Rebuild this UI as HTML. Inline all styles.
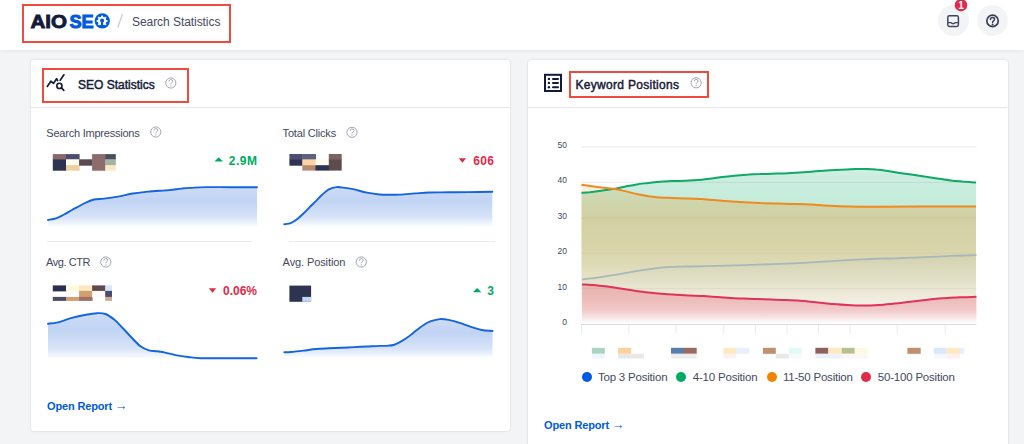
<!DOCTYPE html>
<html><head><meta charset="utf-8"><title>Search Statistics</title>
<style>
*{box-sizing:border-box;margin:0;padding:0}
html,body{width:1024px;height:444px;overflow:hidden}
body{background:#f3f4f5;font-family:"Liberation Sans",Arial,sans-serif;position:relative;color:#141b38}
.abs{position:absolute}
#hdr{left:0;top:0;width:1024px;height:50px;background:#fff;box-shadow:0 1px 4px rgba(0,0,0,.06)}
.redbox{position:absolute;border:2px solid #ef4b3f}
.crumb{left:132px;top:14px;font-size:12px;letter-spacing:-0.06px;color:#434960;line-height:16px;white-space:nowrap}
.hbtn{width:31px;height:31px;border-radius:50%;background:#f3f4f5}
.card{background:#fff;border-radius:3px;box-shadow:0 0 0 1px rgba(20,27,56,.03),0 0 3px rgba(0,0,0,.06)}
.ctitle{font-size:12px;font-weight:bold;color:#141b38;line-height:16px;white-space:nowrap}
.hr{height:1px;background:#e8e8eb}
.lbl{font-size:11px;color:#434960;line-height:14px;white-space:nowrap}
.val{font-size:12px;font-weight:bold;line-height:14px;white-space:nowrap}
.up{color:#00aa63}.dn{color:#df2a4a}
.link{font-size:11px;letter-spacing:-0.15px;font-weight:bold;color:#005ae0;line-height:14px;white-space:nowrap}
.leg{font-size:11.5px;letter-spacing:-0.2px;color:#434960;line-height:14px;white-space:nowrap}
.dot{width:10px;height:10px;border-radius:50%}
.ax{font-size:8.5px;color:#434960;line-height:10px;text-align:right;width:20px}
</style></head><body>

<div id="hdr" class="abs"></div>

<!-- cards -->
<div class="abs card" style="left:31px;top:60px;width:479px;height:371px"></div>
<div class="abs hr" style="left:31px;top:107px;width:479px"></div>
<div class="abs card" style="left:528px;top:60px;width:479.5px;height:400px"></div>
<div class="abs hr" style="left:528px;top:107px;width:479px"></div>
<div class="abs hr" style="left:47px;top:241px;width:205px;background:#ececef"></div>
<div class="abs hr" style="left:289px;top:241px;width:206px;background:#ececef"></div>

<svg class="abs" style="left:0;top:0" width="1024" height="444" viewBox="0 0 1024 444"><defs></defs><linearGradient id="s1" gradientUnits="userSpaceOnUse" x1="0" y1="187.1" x2="0" y2="226.5"><stop offset="0" stop-color="#cddbf6"/><stop offset="0.35" stop-color="#c1d4f4"/><stop offset="0.75" stop-color="#d6e2f8"/><stop offset="1" stop-color="#fafcff"/></linearGradient><path d="M48.0 220.0 C49.3 219.7 53.3 219.3 56.0 218.4 C58.7 217.5 61.3 215.9 64.0 214.5 C66.7 213.1 68.5 211.9 72.0 210.0 C75.5 208.1 81.3 204.8 85.0 203.0 C88.7 201.2 90.8 200.2 94.0 199.5 C97.2 198.8 100.0 199.1 104.0 198.6 C108.0 198.1 113.2 197.4 118.0 196.6 C122.8 195.8 128.0 194.3 133.0 193.5 C138.0 192.7 142.0 192.2 148.0 191.6 C154.0 191.0 163.4 190.6 169.0 190.1 C174.6 189.6 177.3 189.0 181.5 188.6 C185.7 188.2 189.8 187.8 194.0 187.6 C198.2 187.3 201.0 187.2 207.0 187.1 C213.0 187.0 221.7 187.2 230.0 187.2 C238.3 187.2 252.5 187.3 257.0 187.3 L257.0 226.5 L48.0 226.5 Z" fill="url(#s1)"/><path d="M48.0 220.0 C49.3 219.7 53.3 219.3 56.0 218.4 C58.7 217.5 61.3 215.9 64.0 214.5 C66.7 213.1 68.5 211.9 72.0 210.0 C75.5 208.1 81.3 204.8 85.0 203.0 C88.7 201.2 90.8 200.2 94.0 199.5 C97.2 198.8 100.0 199.1 104.0 198.6 C108.0 198.1 113.2 197.4 118.0 196.6 C122.8 195.8 128.0 194.3 133.0 193.5 C138.0 192.7 142.0 192.2 148.0 191.6 C154.0 191.0 163.4 190.6 169.0 190.1 C174.6 189.6 177.3 189.0 181.5 188.6 C185.7 188.2 189.8 187.8 194.0 187.6 C198.2 187.3 201.0 187.2 207.0 187.1 C213.0 187.0 221.7 187.2 230.0 187.2 C238.3 187.2 252.5 187.3 257.0 187.3" fill="none" stroke="#1464e2" stroke-width="1.9" stroke-linecap="round"/><linearGradient id="s2" gradientUnits="userSpaceOnUse" x1="0" y1="187.1" x2="0" y2="226.5"><stop offset="0" stop-color="#cddbf6"/><stop offset="0.35" stop-color="#c1d4f4"/><stop offset="0.75" stop-color="#d6e2f8"/><stop offset="1" stop-color="#fafcff"/></linearGradient><path d="M284.3 224.3 C285.4 224.1 288.6 223.9 290.7 223.1 C292.8 222.3 294.9 220.9 297.0 219.3 C299.1 217.7 301.3 215.5 303.4 213.5 C305.5 211.5 307.6 209.3 309.7 207.2 C311.8 205.1 314.0 203.0 316.1 200.9 C318.2 198.8 320.3 196.4 322.4 194.5 C324.5 192.6 326.5 190.6 328.8 189.4 C331.1 188.2 333.6 187.3 336.4 187.1 C339.1 186.8 342.3 187.5 345.3 187.9 C348.3 188.3 350.6 188.6 354.2 189.4 C357.8 190.2 362.7 191.8 366.9 192.6 C371.1 193.4 375.8 194.1 379.6 194.5 C383.4 194.9 386.3 194.8 389.7 194.8 C393.1 194.8 395.9 194.8 400.0 194.6 C404.1 194.4 409.7 193.8 414.6 193.4 C419.5 193.1 423.6 192.7 429.3 192.5 C435.0 192.3 442.3 192.4 448.8 192.3 C455.3 192.2 461.1 192.2 468.4 192.1 C475.6 192.0 488.3 191.9 492.3 191.8 L492.3 226.5 L284.3 226.5 Z" fill="url(#s2)"/><path d="M284.3 224.3 C285.4 224.1 288.6 223.9 290.7 223.1 C292.8 222.3 294.9 220.9 297.0 219.3 C299.1 217.7 301.3 215.5 303.4 213.5 C305.5 211.5 307.6 209.3 309.7 207.2 C311.8 205.1 314.0 203.0 316.1 200.9 C318.2 198.8 320.3 196.4 322.4 194.5 C324.5 192.6 326.5 190.6 328.8 189.4 C331.1 188.2 333.6 187.3 336.4 187.1 C339.1 186.8 342.3 187.5 345.3 187.9 C348.3 188.3 350.6 188.6 354.2 189.4 C357.8 190.2 362.7 191.8 366.9 192.6 C371.1 193.4 375.8 194.1 379.6 194.5 C383.4 194.9 386.3 194.8 389.7 194.8 C393.1 194.8 395.9 194.8 400.0 194.6 C404.1 194.4 409.7 193.8 414.6 193.4 C419.5 193.1 423.6 192.7 429.3 192.5 C435.0 192.3 442.3 192.4 448.8 192.3 C455.3 192.2 461.1 192.2 468.4 192.1 C475.6 192.0 488.3 191.9 492.3 191.8" fill="none" stroke="#1464e2" stroke-width="1.9" stroke-linecap="round"/><linearGradient id="s3" gradientUnits="userSpaceOnUse" x1="0" y1="313.2" x2="0" y2="358.5"><stop offset="0" stop-color="#cddbf6"/><stop offset="0.35" stop-color="#c1d4f4"/><stop offset="0.75" stop-color="#d6e2f8"/><stop offset="1" stop-color="#fafcff"/></linearGradient><path d="M48.0 323.7 C49.7 323.5 54.0 323.3 58.0 322.3 C62.0 321.3 67.2 319.2 71.9 317.9 C76.6 316.6 81.7 315.5 85.9 314.7 C90.1 313.9 93.7 313.3 97.0 313.2 C100.3 313.1 102.6 312.9 105.5 314.0 C108.4 315.1 111.5 317.4 114.5 319.8 C117.5 322.2 120.3 325.5 123.2 328.5 C126.1 331.5 129.1 335.0 132.0 338.0 C134.9 341.0 137.7 344.2 140.5 346.3 C143.3 348.4 146.2 349.5 149.0 350.3 C151.8 351.1 154.3 350.9 157.0 351.3 C159.7 351.7 162.1 352.0 165.2 352.6 C168.3 353.2 171.6 354.4 175.4 355.1 C179.2 355.8 183.9 356.5 188.1 357.0 C192.3 357.5 193.8 358.0 200.8 358.2 C207.8 358.4 220.7 358.2 230.0 358.2 C239.3 358.2 252.2 358.2 256.6 358.2 L256.6 358.5 L48.0 358.5 Z" fill="url(#s3)"/><path d="M48.0 323.7 C49.7 323.5 54.0 323.3 58.0 322.3 C62.0 321.3 67.2 319.2 71.9 317.9 C76.6 316.6 81.7 315.5 85.9 314.7 C90.1 313.9 93.7 313.3 97.0 313.2 C100.3 313.1 102.6 312.9 105.5 314.0 C108.4 315.1 111.5 317.4 114.5 319.8 C117.5 322.2 120.3 325.5 123.2 328.5 C126.1 331.5 129.1 335.0 132.0 338.0 C134.9 341.0 137.7 344.2 140.5 346.3 C143.3 348.4 146.2 349.5 149.0 350.3 C151.8 351.1 154.3 350.9 157.0 351.3 C159.7 351.7 162.1 352.0 165.2 352.6 C168.3 353.2 171.6 354.4 175.4 355.1 C179.2 355.8 183.9 356.5 188.1 357.0 C192.3 357.5 193.8 358.0 200.8 358.2 C207.8 358.4 220.7 358.2 230.0 358.2 C239.3 358.2 252.2 358.2 256.6 358.2" fill="none" stroke="#1464e2" stroke-width="1.9" stroke-linecap="round"/><linearGradient id="s4" gradientUnits="userSpaceOnUse" x1="0" y1="319.1" x2="0" y2="357.5"><stop offset="0" stop-color="#cddbf6"/><stop offset="0.35" stop-color="#c1d4f4"/><stop offset="0.75" stop-color="#d6e2f8"/><stop offset="1" stop-color="#fafcff"/></linearGradient><path d="M284.3 352.2 C285.4 352.2 287.5 352.3 290.7 352.0 C293.9 351.7 299.2 351.1 303.4 350.6 C307.6 350.1 311.9 349.4 316.1 349.0 C320.3 348.6 324.6 348.5 328.8 348.3 C333.0 348.1 337.3 348.0 341.5 347.8 C345.7 347.6 350.0 347.3 354.2 347.1 C358.4 346.9 362.7 346.7 366.9 346.5 C371.1 346.3 376.0 346.0 379.6 345.9 C383.2 345.8 386.1 345.8 388.4 345.6 C390.7 345.5 391.6 345.6 393.5 345.0 C395.4 344.4 397.5 343.4 399.9 342.1 C402.3 340.8 405.8 338.5 408.0 337.0 C410.2 335.5 410.6 334.9 413.2 332.9 C415.8 330.9 420.3 327.1 423.3 325.2 C426.3 323.2 428.2 322.2 431.0 321.2 C433.8 320.2 436.9 319.3 439.8 319.1 C442.8 318.9 445.5 319.3 448.7 319.9 C451.9 320.5 455.1 321.5 458.9 322.7 C462.7 323.9 467.8 325.9 471.6 327.1 C475.4 328.3 478.2 329.4 481.7 330.0 C485.2 330.6 490.7 330.8 492.5 331.0 L492.5 357.5 L284.3 357.5 Z" fill="url(#s4)"/><path d="M284.3 352.2 C285.4 352.2 287.5 352.3 290.7 352.0 C293.9 351.7 299.2 351.1 303.4 350.6 C307.6 350.1 311.9 349.4 316.1 349.0 C320.3 348.6 324.6 348.5 328.8 348.3 C333.0 348.1 337.3 348.0 341.5 347.8 C345.7 347.6 350.0 347.3 354.2 347.1 C358.4 346.9 362.7 346.7 366.9 346.5 C371.1 346.3 376.0 346.0 379.6 345.9 C383.2 345.8 386.1 345.8 388.4 345.6 C390.7 345.5 391.6 345.6 393.5 345.0 C395.4 344.4 397.5 343.4 399.9 342.1 C402.3 340.8 405.8 338.5 408.0 337.0 C410.2 335.5 410.6 334.9 413.2 332.9 C415.8 330.9 420.3 327.1 423.3 325.2 C426.3 323.2 428.2 322.2 431.0 321.2 C433.8 320.2 436.9 319.3 439.8 319.1 C442.8 318.9 445.5 319.3 448.7 319.9 C451.9 320.5 455.1 321.5 458.9 322.7 C462.7 323.9 467.8 325.9 471.6 327.1 C475.4 328.3 478.2 329.4 481.7 330.0 C485.2 330.6 490.7 330.8 492.5 331.0" fill="none" stroke="#1464e2" stroke-width="1.9" stroke-linecap="round"/><rect x="52.8" y="154.1" width="13.7" height="5.7" fill="#8a6868"/><rect x="52.8" y="159.3" width="13.7" height="11.4" fill="#2e3352"/><rect x="66.0" y="154.1" width="13.6" height="5.7" fill="#4c4c72"/><rect x="66.0" y="159.3" width="13.6" height="6.4" fill="#fefcea"/><rect x="66.0" y="165.2" width="13.6" height="5.5" fill="#ecd2a0"/><rect x="79.1" y="159.3" width="13.5" height="6.4" fill="#5a4a50"/><rect x="92.1" y="154.1" width="13.6" height="16.6" fill="#8c6c6c"/><rect x="105.2" y="154.1" width="10.6" height="5.7" fill="#4a4e5e"/><rect x="105.2" y="159.3" width="10.6" height="6.4" fill="#a4b4a4"/><rect x="105.2" y="165.2" width="10.6" height="5.5" fill="#fce8c0"/><rect x="289.4" y="154.0" width="13.4" height="5.9" fill="#4e4e72"/><rect x="289.4" y="159.4" width="13.4" height="6.3" fill="#2e3355"/><rect x="302.3" y="154.0" width="13.7" height="5.9" fill="#5e6080"/><rect x="302.3" y="159.4" width="13.7" height="6.3" fill="#fdd4a4"/><rect x="302.3" y="165.2" width="13.7" height="5.4" fill="#b88a72"/><rect x="315.5" y="159.4" width="13.8" height="6.3" fill="#fdfcee"/><rect x="315.5" y="165.2" width="13.8" height="5.4" fill="#2e3355"/><rect x="328.8" y="154.0" width="12.9" height="5.9" fill="#7a6460"/><rect x="328.8" y="159.4" width="12.9" height="11.2" fill="#5e4c4c"/><rect x="52.8" y="285.4" width="13.7" height="6.0" fill="#2c3050"/><rect x="52.8" y="296.9" width="13.7" height="4.0" fill="#4a4e60"/><rect x="66.0" y="285.4" width="13.6" height="6.0" fill="#fefcdc"/><rect x="66.0" y="296.9" width="13.6" height="4.0" fill="#d0a070"/><rect x="79.1" y="285.4" width="13.5" height="6.0" fill="#fde8c0"/><rect x="79.1" y="290.9" width="13.5" height="6.5" fill="#d0a070"/><rect x="79.1" y="296.9" width="13.5" height="4.0" fill="#a07068"/><rect x="92.1" y="285.4" width="13.6" height="6.0" fill="#5e4a4c"/><rect x="92.1" y="290.9" width="13.6" height="6.5" fill="#fefafa"/><rect x="105.2" y="285.4" width="6.8" height="6.0" fill="#d4e4fa"/><rect x="105.2" y="290.9" width="6.8" height="6.5" fill="#4a4a72"/><rect x="105.2" y="296.9" width="6.8" height="4.0" fill="#ccaa90"/><rect x="289.4" y="285.6" width="21.7" height="16.2" fill="#2e3352"/><rect x="302.3" y="296.9" width="8.8" height="4.9" fill="#c4d8f6"/><linearGradient id="gG" gradientUnits="userSpaceOnUse" x1="0" y1="0" x2="0" y2="444"><stop offset="0.3806" stop-color="#00aa63" stop-opacity="0.190"/><stop offset="0.4505" stop-color="#00aa63" stop-opacity="0.230"/><stop offset="0.4955" stop-color="#00aa63" stop-opacity="0.220"/><stop offset="0.5631" stop-color="#00aa63" stop-opacity="0.180"/><stop offset="0.5968" stop-color="#00aa63" stop-opacity="0.150"/><stop offset="0.6644" stop-color="#00aa63" stop-opacity="0.050"/><stop offset="0.7297" stop-color="#00aa63" stop-opacity="0.000"/></linearGradient><linearGradient id="gO" gradientUnits="userSpaceOnUse" x1="0" y1="0" x2="0" y2="444"><stop offset="0.4167" stop-color="#f18200" stop-opacity="0.120"/><stop offset="0.4617" stop-color="#f18200" stop-opacity="0.230"/><stop offset="0.4955" stop-color="#f18200" stop-opacity="0.260"/><stop offset="0.5631" stop-color="#f18200" stop-opacity="0.250"/><stop offset="0.5968" stop-color="#f18200" stop-opacity="0.210"/><stop offset="0.6644" stop-color="#f18200" stop-opacity="0.120"/><stop offset="0.7297" stop-color="#f18200" stop-opacity="0.000"/></linearGradient><linearGradient id="gB" gradientUnits="userSpaceOnUse" x1="0" y1="0" x2="0" y2="444"><stop offset="0.5743" stop-color="#005ae0" stop-opacity="0.030"/><stop offset="0.6757" stop-color="#005ae0" stop-opacity="0.015"/><stop offset="0.7297" stop-color="#005ae0" stop-opacity="0.000"/></linearGradient><linearGradient id="gR" gradientUnits="userSpaceOnUse" x1="0" y1="0" x2="0" y2="444"><stop offset="0.6374" stop-color="#df2a4a" stop-opacity="0.250"/><stop offset="0.6757" stop-color="#df2a4a" stop-opacity="0.250"/><stop offset="0.6982" stop-color="#df2a4a" stop-opacity="0.210"/><stop offset="0.7162" stop-color="#df2a4a" stop-opacity="0.100"/><stop offset="0.7275" stop-color="#df2a4a" stop-opacity="0.000"/></linearGradient><rect x="581" y="146.5" width="395.5" height="1" fill="#ebebee"/><rect x="581" y="181.9" width="395.5" height="1" fill="#ebebee"/><rect x="581" y="217.3" width="395.5" height="1" fill="#ebebee"/><rect x="581" y="252.7" width="395.5" height="1" fill="#f2f2f2"/><rect x="581" y="288.1" width="395.5" height="1" fill="#f2f2f2"/><rect x="581" y="324.0" width="395.5" height="1" fill="#d9dbe3"/><rect x="581.1" y="325" width="1" height="9" fill="#ebebef"/><rect x="628.3" y="325" width="1" height="9" fill="#ebebef"/><rect x="675.6" y="325" width="1" height="9" fill="#ebebef"/><rect x="723.3" y="325" width="1" height="9" fill="#ebebef"/><rect x="754.9" y="325" width="1" height="9" fill="#ebebef"/><rect x="786.6" y="325" width="1" height="9" fill="#ebebef"/><rect x="817.9" y="325" width="1" height="9" fill="#ebebef"/><rect x="849.5" y="325" width="1" height="9" fill="#ebebef"/><rect x="896.7" y="325" width="1" height="9" fill="#ebebef"/><rect x="944.7" y="325" width="1" height="9" fill="#ebebef"/><path d="M581.5 192.8 C582.9 192.7 586.4 192.5 589.7 192.2 C593.0 191.8 597.5 191.2 601.4 190.7 C605.3 190.2 609.3 189.8 613.2 189.1 C617.1 188.4 621.0 187.5 624.9 186.7 C628.8 185.9 632.7 185.0 636.6 184.4 C640.5 183.8 644.4 183.4 648.3 182.9 C652.2 182.4 656.1 182.0 660.0 181.7 C663.9 181.4 667.6 181.3 671.8 181.1 C676.0 180.9 680.0 180.9 685.0 180.7 C690.0 180.5 697.0 180.1 701.7 179.7 C706.4 179.3 709.5 178.7 713.4 178.2 C717.3 177.7 721.3 177.2 725.2 176.8 C729.1 176.4 733.0 176.0 736.9 175.6 C740.8 175.2 744.7 174.8 748.6 174.6 C752.5 174.3 756.4 174.2 760.3 174.1 C764.2 173.9 768.1 173.8 772.0 173.7 C775.9 173.6 779.9 173.6 783.8 173.4 C787.7 173.2 790.9 173.1 795.5 172.8 C800.1 172.5 807.1 172.0 811.7 171.7 C816.4 171.4 819.5 171.1 823.4 170.8 C827.3 170.5 831.3 170.2 835.2 170.0 C839.1 169.8 843.0 169.6 846.9 169.4 C850.8 169.2 855.4 169.1 858.6 169.0 C861.8 168.9 863.1 168.9 866.0 169.0 C868.9 169.1 872.6 169.2 876.2 169.6 C879.9 169.9 884.0 170.5 887.9 171.1 C891.8 171.7 895.7 172.3 899.6 172.9 C903.5 173.5 906.7 173.9 911.3 174.6 C915.9 175.3 922.8 176.3 927.4 177.0 C932.0 177.7 935.2 178.2 939.1 178.8 C943.0 179.4 946.9 179.9 950.8 180.4 C954.7 180.9 958.3 181.2 962.5 181.6 C966.7 181.9 973.8 182.3 976.0 182.5 L976.0 324.0 L581.5 324.0 Z" fill="url(#gG)"/><path d="M581.5 184.8 C582.9 185.0 586.4 185.6 589.7 186.0 C593.0 186.4 597.5 187.0 601.4 187.5 C605.3 188.0 609.3 188.2 613.2 188.8 C617.1 189.4 621.0 190.2 624.9 191.1 C628.8 192.0 632.7 193.2 636.6 194.0 C640.5 194.8 644.4 195.6 648.3 196.2 C652.2 196.8 656.1 197.1 660.0 197.4 C663.9 197.7 667.6 197.8 671.8 198.0 C676.0 198.2 680.0 198.2 685.0 198.4 C690.0 198.6 697.0 198.8 701.7 199.1 C706.4 199.4 709.5 199.8 713.4 200.1 C717.3 200.4 721.3 200.7 725.2 201.0 C729.1 201.3 733.0 201.6 736.9 201.8 C740.8 202.1 744.7 202.3 748.6 202.5 C752.5 202.7 756.4 202.9 760.3 203.1 C764.2 203.2 768.1 203.3 772.0 203.4 C775.9 203.5 779.6 203.6 783.8 203.7 C788.0 203.8 792.4 203.9 797.0 204.1 C801.6 204.2 807.3 204.4 811.7 204.6 C816.1 204.8 819.5 205.2 823.4 205.4 C827.3 205.6 831.3 205.8 835.2 206.0 C839.1 206.2 843.0 206.3 846.9 206.4 C850.8 206.5 852.8 206.6 858.6 206.7 C864.5 206.8 871.8 206.8 882.0 206.8 C892.2 206.8 904.3 206.6 920.0 206.6 C935.7 206.6 966.7 206.6 976.0 206.6 L976.0 324.0 L581.5 324.0 Z" fill="url(#gO)"/><path d="M582.0 279.5 C583.6 279.3 587.7 278.9 591.5 278.4 C595.3 277.9 600.5 277.1 605.0 276.4 C609.5 275.7 614.0 275.1 618.5 274.3 C623.0 273.6 627.5 272.7 632.0 271.9 C636.5 271.1 641.1 270.3 645.6 269.6 C650.1 268.9 654.6 268.2 659.1 267.8 C663.6 267.4 667.5 267.1 672.6 266.9 C677.8 266.7 682.6 266.7 690.0 266.5 C697.4 266.3 708.0 266.1 717.0 265.9 C726.0 265.7 735.0 265.4 744.0 265.1 C753.0 264.8 762.1 264.5 771.1 264.2 C780.1 263.9 790.7 263.5 798.1 263.1 C805.5 262.8 810.2 262.4 815.8 262.1 C821.4 261.8 826.2 261.4 831.5 261.1 C836.8 260.8 842.0 260.4 847.3 260.1 C852.6 259.8 857.9 259.5 863.1 259.3 C868.4 259.1 873.5 258.9 878.8 258.7 C884.0 258.5 888.4 258.5 894.6 258.3 C900.8 258.1 909.6 257.8 915.8 257.6 C921.9 257.4 926.2 257.1 931.5 256.9 C936.8 256.6 942.0 256.3 947.3 256.1 C952.6 255.9 958.2 255.7 963.1 255.5 C968.0 255.3 974.3 255.2 976.5 255.2 L976.5 324.0 L582.0 324.0 Z" fill="url(#gB)"/><path d="M582.0 279.5 C583.6 279.3 587.7 278.9 591.5 278.4 C595.3 277.9 600.5 277.1 605.0 276.4 C609.5 275.7 614.0 275.1 618.5 274.3 C623.0 273.6 627.5 272.7 632.0 271.9 C636.5 271.1 641.1 270.3 645.6 269.6 C650.1 268.9 654.6 268.2 659.1 267.8 C663.6 267.4 667.5 267.1 672.6 266.9 C677.8 266.7 682.6 266.7 690.0 266.5 C697.4 266.3 708.0 266.1 717.0 265.9 C726.0 265.7 735.0 265.4 744.0 265.1 C753.0 264.8 762.1 264.5 771.1 264.2 C780.1 263.9 790.7 263.5 798.1 263.1 C805.5 262.8 810.2 262.4 815.8 262.1 C821.4 261.8 826.2 261.4 831.5 261.1 C836.8 260.8 842.0 260.4 847.3 260.1 C852.6 259.8 857.9 259.5 863.1 259.3 C868.4 259.1 873.5 258.9 878.8 258.7 C884.0 258.5 888.4 258.5 894.6 258.3 C900.8 258.1 909.6 257.8 915.8 257.6 C921.9 257.4 926.2 257.1 931.5 256.9 C936.8 256.6 942.0 256.3 947.3 256.1 C952.6 255.9 958.2 255.7 963.1 255.5 C968.0 255.3 974.3 255.2 976.5 255.2" fill="none" stroke="#a8b8b8" stroke-width="1.8"/><path d="M582.0 284.5 C583.6 284.6 587.7 284.6 591.5 284.9 C595.3 285.2 600.5 285.6 605.0 286.2 C609.5 286.8 614.0 287.5 618.5 288.2 C623.0 288.9 627.5 289.6 632.0 290.3 C636.5 291.0 641.1 291.7 645.6 292.2 C650.1 292.7 654.6 293.1 659.1 293.5 C663.6 293.9 667.8 294.3 672.6 294.6 C677.4 294.9 682.9 295.1 688.0 295.4 C693.1 295.6 698.7 295.8 703.5 296.1 C708.3 296.4 712.5 296.7 717.0 297.0 C721.5 297.3 726.0 297.7 730.5 298.0 C735.0 298.3 739.5 298.4 744.0 298.6 C748.5 298.8 753.1 299.0 757.6 299.1 C762.1 299.2 766.6 299.4 771.1 299.5 C775.6 299.6 779.8 299.8 784.6 300.0 C789.4 300.2 794.8 300.4 800.0 300.8 C805.2 301.2 810.5 301.8 815.8 302.3 C821.0 302.8 826.2 303.4 831.5 303.9 C836.8 304.3 842.0 304.7 847.3 305.0 C852.6 305.3 857.9 305.5 863.1 305.5 C868.4 305.5 873.5 305.3 878.8 305.0 C884.0 304.7 889.3 304.1 894.6 303.6 C899.9 303.1 904.2 302.5 910.4 301.8 C916.5 301.1 925.4 299.9 931.5 299.2 C937.6 298.5 942.0 298.2 947.3 297.9 C952.6 297.6 958.2 297.4 963.1 297.2 C968.0 297.0 974.3 296.9 976.5 296.8 L976.5 324.0 L582.0 324.0 Z" fill="url(#gR)"/><path d="M581.5 192.8 C582.9 192.7 586.4 192.5 589.7 192.2 C593.0 191.8 597.5 191.2 601.4 190.7 C605.3 190.2 609.3 189.8 613.2 189.1 C617.1 188.4 621.0 187.5 624.9 186.7 C628.8 185.9 632.7 185.0 636.6 184.4 C640.5 183.8 644.4 183.4 648.3 182.9 C652.2 182.4 656.1 182.0 660.0 181.7 C663.9 181.4 667.6 181.3 671.8 181.1 C676.0 180.9 680.0 180.9 685.0 180.7 C690.0 180.5 697.0 180.1 701.7 179.7 C706.4 179.3 709.5 178.7 713.4 178.2 C717.3 177.7 721.3 177.2 725.2 176.8 C729.1 176.4 733.0 176.0 736.9 175.6 C740.8 175.2 744.7 174.8 748.6 174.6 C752.5 174.3 756.4 174.2 760.3 174.1 C764.2 173.9 768.1 173.8 772.0 173.7 C775.9 173.6 779.9 173.6 783.8 173.4 C787.7 173.2 790.9 173.1 795.5 172.8 C800.1 172.5 807.1 172.0 811.7 171.7 C816.4 171.4 819.5 171.1 823.4 170.8 C827.3 170.5 831.3 170.2 835.2 170.0 C839.1 169.8 843.0 169.6 846.9 169.4 C850.8 169.2 855.4 169.1 858.6 169.0 C861.8 168.9 863.1 168.9 866.0 169.0 C868.9 169.1 872.6 169.2 876.2 169.6 C879.9 169.9 884.0 170.5 887.9 171.1 C891.8 171.7 895.7 172.3 899.6 172.9 C903.5 173.5 906.7 173.9 911.3 174.6 C915.9 175.3 922.8 176.3 927.4 177.0 C932.0 177.7 935.2 178.2 939.1 178.8 C943.0 179.4 946.9 179.9 950.8 180.4 C954.7 180.9 958.3 181.2 962.5 181.6 C966.7 181.9 973.8 182.3 976.0 182.5" fill="none" stroke="#10a866" stroke-width="2"/><path d="M581.5 184.8 C582.9 185.0 586.4 185.6 589.7 186.0 C593.0 186.4 597.5 187.0 601.4 187.5 C605.3 188.0 609.3 188.2 613.2 188.8 C617.1 189.4 621.0 190.2 624.9 191.1 C628.8 192.0 632.7 193.2 636.6 194.0 C640.5 194.8 644.4 195.6 648.3 196.2 C652.2 196.8 656.1 197.1 660.0 197.4 C663.9 197.7 667.6 197.8 671.8 198.0 C676.0 198.2 680.0 198.2 685.0 198.4 C690.0 198.6 697.0 198.8 701.7 199.1 C706.4 199.4 709.5 199.8 713.4 200.1 C717.3 200.4 721.3 200.7 725.2 201.0 C729.1 201.3 733.0 201.6 736.9 201.8 C740.8 202.1 744.7 202.3 748.6 202.5 C752.5 202.7 756.4 202.9 760.3 203.1 C764.2 203.2 768.1 203.3 772.0 203.4 C775.9 203.5 779.6 203.6 783.8 203.7 C788.0 203.8 792.4 203.9 797.0 204.1 C801.6 204.2 807.3 204.4 811.7 204.6 C816.1 204.8 819.5 205.2 823.4 205.4 C827.3 205.6 831.3 205.8 835.2 206.0 C839.1 206.2 843.0 206.3 846.9 206.4 C850.8 206.5 852.8 206.6 858.6 206.7 C864.5 206.8 871.8 206.8 882.0 206.8 C892.2 206.8 904.3 206.6 920.0 206.6 C935.7 206.6 966.7 206.6 976.0 206.6" fill="none" stroke="#f08a1c" stroke-width="2"/><path d="M582.0 284.5 C583.6 284.6 587.7 284.6 591.5 284.9 C595.3 285.2 600.5 285.6 605.0 286.2 C609.5 286.8 614.0 287.5 618.5 288.2 C623.0 288.9 627.5 289.6 632.0 290.3 C636.5 291.0 641.1 291.7 645.6 292.2 C650.1 292.7 654.6 293.1 659.1 293.5 C663.6 293.9 667.8 294.3 672.6 294.6 C677.4 294.9 682.9 295.1 688.0 295.4 C693.1 295.6 698.7 295.8 703.5 296.1 C708.3 296.4 712.5 296.7 717.0 297.0 C721.5 297.3 726.0 297.7 730.5 298.0 C735.0 298.3 739.5 298.4 744.0 298.6 C748.5 298.8 753.1 299.0 757.6 299.1 C762.1 299.2 766.6 299.4 771.1 299.5 C775.6 299.6 779.8 299.8 784.6 300.0 C789.4 300.2 794.8 300.4 800.0 300.8 C805.2 301.2 810.5 301.8 815.8 302.3 C821.0 302.8 826.2 303.4 831.5 303.9 C836.8 304.3 842.0 304.7 847.3 305.0 C852.6 305.3 857.9 305.5 863.1 305.5 C868.4 305.5 873.5 305.3 878.8 305.0 C884.0 304.7 889.3 304.1 894.6 303.6 C899.9 303.1 904.2 302.5 910.4 301.8 C916.5 301.1 925.4 299.9 931.5 299.2 C937.6 298.5 942.0 298.2 947.3 297.9 C952.6 297.6 958.2 297.4 963.1 297.2 C968.0 297.0 974.3 296.9 976.5 296.8" fill="none" stroke="#e0325a" stroke-width="2"/><rect x="591.9" y="347.8" width="12.9" height="6.0" fill="#a8d4c0"/><rect x="618.1" y="347.8" width="13.1" height="6.0" fill="#fdd0a0"/><rect x="671.0" y="347.8" width="13.0" height="6.0" fill="#5a7ca8"/><rect x="684.0" y="347.8" width="12.7" height="6.0" fill="#9a6a60"/><rect x="723.6" y="347.8" width="12.9" height="6.0" fill="#fde8c0"/><rect x="736.5" y="347.8" width="12.9" height="6.0" fill="#e8f0fd"/><rect x="762.9" y="347.8" width="12.9" height="6.0" fill="#c09070"/><rect x="789.0" y="347.8" width="12.5" height="6.0" fill="#e0fafa"/><rect x="815.4" y="347.8" width="12.9" height="6.0" fill="#8a6060"/><rect x="828.3" y="347.8" width="13.4" height="6.0" fill="#fde8c0"/><rect x="841.7" y="347.8" width="13.1" height="6.0" fill="#b8c090"/><rect x="854.8" y="347.8" width="12.8" height="6.0" fill="#fdfae0"/><rect x="907.4" y="347.8" width="13.3" height="6.0" fill="#c09070"/><rect x="933.8" y="347.8" width="12.9" height="6.0" fill="#d8e8fd"/><rect x="946.7" y="347.8" width="13.3" height="6.0" fill="#fde8c0"/><rect x="960.0" y="347.8" width="4.3" height="6.0" fill="#e8f0fd"/><rect x="591.9" y="353.8" width="12.9" height="4.7" fill="#f0f4fc"/><rect x="618.1" y="353.8" width="25.9" height="4.7" fill="#e8e8e8"/><rect x="671.0" y="353.8" width="25.7" height="4.7" fill="#eeeeee"/><rect x="723.6" y="353.8" width="12.9" height="4.7" fill="#fdf0f0"/><rect x="775.8" y="353.8" width="13.0" height="4.7" fill="#e8e8e8"/><rect x="789.0" y="353.8" width="12.5" height="4.7" fill="#f6fafa"/><rect x="815.4" y="353.8" width="26.3" height="4.7" fill="#eef0f8"/><rect x="841.7" y="353.8" width="25.9" height="4.7" fill="#fcf6f8"/><rect x="933.8" y="353.8" width="12.9" height="4.7" fill="#f4f8fc"/><rect x="946.7" y="353.8" width="13.3" height="4.7" fill="#fdf0f0"/></svg>

<!-- header -->
<div class="redbox" style="left:22px;top:4px;width:209px;height:39px"></div>
<svg class="abs" style="left:0;top:0" width="240" height="50" viewBox="0 0 240 50">
  <text x="30.4" y="27.95" font-family="Liberation Sans, Arial, sans-serif" font-weight="bold" font-size="18.7" fill="#141b38" stroke="#141b38" stroke-width="0.9" textLength="36.5" lengthAdjust="spacingAndGlyphs">AIO</text>
  <text x="69.4" y="27.95" font-family="Liberation Sans, Arial, sans-serif" font-weight="bold" font-size="18.7" fill="#005ae0" stroke="#005ae0" stroke-width="0.9" textLength="24.3" lengthAdjust="spacingAndGlyphs">SE</text>
  <circle cx="102.3" cy="20.8" r="7.6" fill="#005ae0"/>
  <g transform="translate(102.1 21)"><g fill="#fff"><circle r="4.25"/><rect x="-0.95" y="-5.4" width="1.9" height="2" transform="rotate(0)"/><rect x="-0.95" y="-5.4" width="1.9" height="2" transform="rotate(45)"/><rect x="-0.95" y="-5.4" width="1.9" height="2" transform="rotate(90)"/><rect x="-0.95" y="-5.4" width="1.9" height="2" transform="rotate(135)"/><rect x="-0.95" y="-5.4" width="1.9" height="2" transform="rotate(225)"/><rect x="-0.95" y="-5.4" width="1.9" height="2" transform="rotate(270)"/><rect x="-0.95" y="-5.4" width="1.9" height="2" transform="rotate(315)"/></g><circle cx="0" cy="-0.5" r="2.05" fill="#005ae0"/><rect x="-1.05" y="-0.5" width="2.1" height="6.2" fill="#005ae0"/></g>
  <line x1="122.5" y1="14" x2="117.8" y2="27.5" stroke="#c7cad1" stroke-width="1.2"/>
</svg>
<div class="abs crumb">Search Statistics</div>

<div class="abs hbtn" style="left:938px;top:5px"></div>
<div class="abs hbtn" style="left:977px;top:5px"></div>
<svg class="abs" style="left:930px;top:0" width="94" height="44" viewBox="930 0 94 44">
  <rect x="947.8" y="15.8" width="10.6" height="10.6" rx="1.6" fill="none" stroke="#3f4560" stroke-width="1.5"/>
  <path d="M948 22.6 H950.8 Q953.1 25 955.4 22.6 H958.2" fill="none" stroke="#3f4560" stroke-width="1.4"/>
  <circle cx="961" cy="5.2" r="6.2" fill="#df2a4a"/>
  <text x="961" y="9" text-anchor="middle" font-family="Liberation Sans, Arial, sans-serif" font-weight="bold" font-size="10" fill="#fff">1</text>
  <circle cx="992.55" cy="20.9" r="5.7" fill="none" stroke="#3a405c" stroke-width="1.7"/>
  <path d="M990.5 19.4 Q990.4 17.6 992.5 17.6 Q994.6 17.6 994.6 19.2 Q994.6 20.3 993.4 20.9 Q992.6 21.4 992.6 22.6" fill="none" stroke="#3a405c" stroke-width="1.5" stroke-linecap="round"/>
  <circle cx="992.6" cy="24.5" r="0.95" fill="#3a405c"/>
</svg>

<!-- Left card header -->
<div class="redbox" style="left:41.5px;top:68px;width:147px;height:34.5px"></div>
<svg class="abs" style="left:44px;top:72px" width="24" height="22" viewBox="0 0 24 22">
  <path d="M3.3 14.4 L6.9 9.2 L9.4 11.4 L12.6 6.7 L13.6 8.6" fill="none" stroke="#141b38" stroke-width="1.7" stroke-linejoin="round" stroke-linecap="round"/>
  <path d="M16.2 8.2 L19.9 2.8" fill="none" stroke="#141b38" stroke-width="1.7" stroke-linecap="round"/>
  <circle cx="15.4" cy="13.9" r="2.6" fill="none" stroke="#141b38" stroke-width="1.6"/>
  <path d="M17.4 15.9 L19.8 18.3" stroke="#141b38" stroke-width="1.7" stroke-linecap="round"/>
</svg>
<div class="abs ctitle" style="left:78px;top:76.7px;font-weight:normal;-webkit-text-stroke:0.45px #141b38">SEO Statistics</div>

<!-- Right card header -->
<div class="redbox" style="left:569px;top:71px;width:140px;height:26.5px"></div>
<svg class="abs" style="left:540px;top:70px" width="26" height="26" viewBox="540 70 26 26">
  <rect x="545" y="74.8" width="16" height="16.2" fill="none" stroke="#141b38" stroke-width="2"/>
  <circle cx="548.9" cy="78.9" r="1.2" fill="#141b38"/><circle cx="548.9" cy="82.9" r="1.2" fill="#141b38"/><circle cx="548.9" cy="87.2" r="1.2" fill="#141b38"/>
  <path d="M553 78.9 H558 M553 82.9 H558 M553 87.2 H558" stroke="#141b38" stroke-width="2" stroke-linecap="round"/>
</svg>
<div class="abs ctitle" style="left:575.5px;top:76.7px;letter-spacing:0.3px;font-weight:normal;-webkit-text-stroke:0.45px #141b38">Keyword Positions</div>

<!-- help icons -->
<svg class="abs" style="left:0;top:0" width="1024" height="444" viewBox="0 0 1024 444">
  <defs>
    <g id="q">
      <circle r="5.1" fill="none" stroke="#a3a7b5" stroke-width="1"/>
      <path d="M-1.9 -1.5 Q-1.9 -3.4 0 -3.4 Q1.9 -3.4 1.9 -1.7 Q1.9 -0.6 0.6 0 Q0 0.4 0 1.3" fill="none" stroke="#a3a7b5" stroke-width="1"/>
      <circle cx="0" cy="2.9" r="0.6" fill="#a3a7b5"/>
    </g>
  </defs>
  <use href="#q" x="170.8" y="83"/>
  <use href="#q" x="696.1" y="82.8"/>
  <use href="#q" x="155.8" y="132"/>
  <use href="#q" x="352" y="132.3"/>
  <use href="#q" x="105.8" y="262"/>
  <use href="#q" x="361.3" y="262"/>
</svg>

<!-- metric labels -->
<div class="abs lbl" style="left:46.3px;top:126px;letter-spacing:-0.22px">Search Impressions</div>
<div class="abs lbl" style="left:282.6px;top:126px;letter-spacing:-0.19px">Total Clicks</div>
<div class="abs lbl" style="left:46.1px;top:255px;letter-spacing:-0.45px">Avg. CTR</div>
<div class="abs lbl" style="left:282.6px;top:255px;letter-spacing:-0.1px">Avg. Position</div>

<!-- values -->
<svg class="abs" style="left:0;top:0" width="1024" height="444" viewBox="0 0 1024 444">
  <path d="M214.4 161.6 L218.7 157.3 L223 161.6 Z" fill="#00aa63"/>
  <path d="M458.8 158.3 L466.1 158.3 L462.45 162.7 Z" fill="#df2a4a"/>
  <path d="M208.9 288.3 L216.2 288.3 L212.55 292.7 Z" fill="#df2a4a"/>
  <path d="M472.9 292.3 L477.15 288 L481.4 292.3 Z" fill="#00aa63"/>
</svg>
<div class="abs val up" style="right:766.5px;top:154px;letter-spacing:0.5px">2.9M</div>
<div class="abs val dn" style="right:529.7px;top:154px;letter-spacing:0.35px">606</div>
<div class="abs val dn" style="right:767px;top:284px">0.06%</div>
<div class="abs val up" style="right:530px;top:284px">3</div>

<!-- chart y labels -->
<div class="abs ax" style="left:547px;top:140px">50</div>
<div class="abs ax" style="left:547px;top:175.4px">40</div>
<div class="abs ax" style="left:547px;top:210.8px">30</div>
<div class="abs ax" style="left:547px;top:246.2px">20</div>
<div class="abs ax" style="left:547px;top:281.6px">10</div>
<div class="abs ax" style="left:547px;top:317px">0</div>

<!-- legend -->
<div class="abs dot" style="left:581.6px;top:372px;background:#005ae0"></div>
<div class="abs leg" style="left:597.9px;top:370px">Top 3 Position</div>
<div class="abs dot" style="left:676.3px;top:372px;background:#00aa63"></div>
<div class="abs leg" style="left:692.8px;top:370px">4-10 Position</div>
<div class="abs dot" style="left:766.6px;top:372px;background:#f18200"></div>
<div class="abs leg" style="left:782.9px;top:370px">11-50 Position</div>
<div class="abs dot" style="left:861.3px;top:372px;background:#df2a4a"></div>
<div class="abs leg" style="left:877.8px;top:370px">50-100 Position</div>

<div class="abs link" style="left:47px;top:399.4px">Open Report <span style="font-size:12.5px;line-height:10px">&rarr;</span></div>
<div class="abs link" style="left:544px;top:418px">Open Report <span style="font-size:12.5px;line-height:10px">&rarr;</span></div>

</body></html>
